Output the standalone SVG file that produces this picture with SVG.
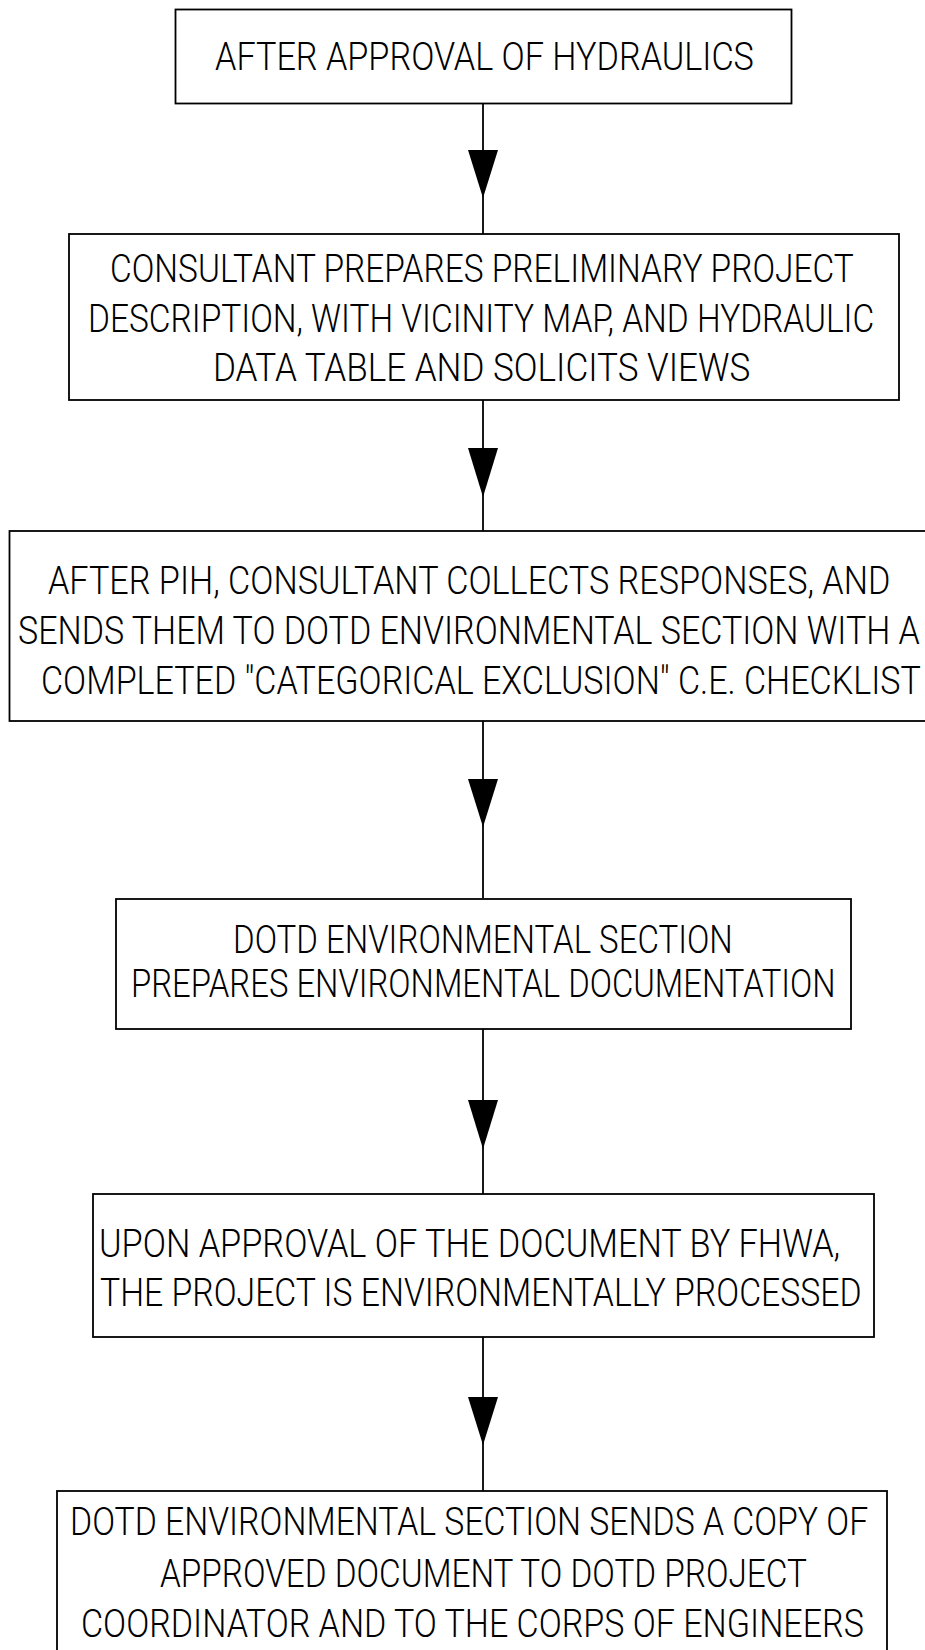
<svg xmlns="http://www.w3.org/2000/svg" width="925" height="1650" viewBox="0 0 925 1650">
<style>
.box{fill:#fff;stroke:#000;stroke-width:1.8}
.t{font-family:Roboto,"Liberation Sans",sans-serif;font-weight:300;font-size:38px;fill:#000}
.ln{stroke:#000;stroke-width:1.8;fill:none}
.ah{fill:#000;stroke:none}
</style>
<rect width="925" height="1650" fill="#fff"/>
<g id="connectors">
<line class="ln" x1="483" y1="103" x2="483" y2="234"/>
<polygon class="ah" points="468,150 498,150 483,198"/>
<line class="ln" x1="483" y1="400" x2="483" y2="531"/>
<polygon class="ah" points="468,448 498,448 483,497"/>
<line class="ln" x1="483" y1="721" x2="483" y2="898"/>
<polygon class="ah" points="468,779 498,779 483,827"/>
<line class="ln" x1="483" y1="1028" x2="483" y2="1194"/>
<polygon class="ah" points="468,1100 498,1100 483,1149"/>
<line class="ln" x1="483" y1="1337" x2="483" y2="1491"/>
<polygon class="ah" points="468,1397 498,1397 483,1445"/>
</g>
<g id="n1">
<rect class="box" x="175.5" y="9.5" width="616" height="94"/>
<text class="t" transform="translate(215,70) scale(0.85,1)" textLength="634" lengthAdjust="spacingAndGlyphs">AFTER APPROVAL OF HYDRAULICS</text>
</g>
<g id="n2">
<rect class="box" x="69" y="234" width="830" height="166"/>
<text class="t" transform="translate(110,282) scale(0.85,1)" textLength="875" lengthAdjust="spacingAndGlyphs">CONSULTANT PREPARES PRELIMINARY PROJECT</text>
<text class="t" transform="translate(88,332) scale(0.85,1)" textLength="925" lengthAdjust="spacingAndGlyphs">DESCRIPTION, WITH VICINITY MAP, AND HYDRAULIC</text>
<text class="t" transform="translate(213,381) scale(0.85,1)" textLength="632" lengthAdjust="spacingAndGlyphs">DATA TABLE AND SOLICITS VIEWS</text>
</g>
<g id="n3">
<rect class="box" x="9.5" y="531" width="930" height="190"/>
<text class="t" transform="translate(48,594) scale(0.85,1)" textLength="991" lengthAdjust="spacingAndGlyphs">AFTER PIH, CONSULTANT COLLECTS RESPONSES, AND</text>
<text class="t" transform="translate(18,644) scale(0.85,1)" textLength="1061" lengthAdjust="spacingAndGlyphs">SENDS THEM TO DOTD ENVIRONMENTAL SECTION WITH A</text>
<text class="t" transform="translate(41,694) scale(0.85,1)" textLength="1035" lengthAdjust="spacingAndGlyphs">COMPLETED "CATEGORICAL EXCLUSION" C.E. CHECKLIST</text>
</g>
<g id="n4">
<rect class="box" x="116" y="899" width="735" height="130"/>
<text class="t" transform="translate(233,953) scale(0.85,1)" textLength="588" lengthAdjust="spacingAndGlyphs">DOTD ENVIRONMENTAL SECTION</text>
<text class="t" transform="translate(131,997) scale(0.85,1)" textLength="829" lengthAdjust="spacingAndGlyphs">PREPARES ENVIRONMENTAL DOCUMENTATION</text>
</g>
<g id="n5">
<rect class="box" x="93" y="1194" width="781" height="143"/>
<text class="t" transform="translate(99,1257) scale(0.85,1)" textLength="872" lengthAdjust="spacingAndGlyphs">UPON APPROVAL OF THE DOCUMENT BY FHWA,</text>
<text class="t" transform="translate(100,1306) scale(0.85,1)" textLength="896" lengthAdjust="spacingAndGlyphs">THE PROJECT IS ENVIRONMENTALLY PROCESSED</text>
</g>
<g id="n6">
<rect class="box" x="57" y="1491" width="830" height="200"/>
<text class="t" transform="translate(70,1535) scale(0.85,1)" textLength="939" lengthAdjust="spacingAndGlyphs">DOTD ENVIRONMENTAL SECTION SENDS A COPY OF</text>
<text class="t" transform="translate(160,1587) scale(0.85,1)" textLength="761" lengthAdjust="spacingAndGlyphs">APPROVED DOCUMENT TO DOTD PROJECT</text>
<text class="t" transform="translate(81,1637) scale(0.85,1)" textLength="921" lengthAdjust="spacingAndGlyphs">COORDINATOR AND TO THE CORPS OF ENGINEERS</text>
</g>
</svg>
